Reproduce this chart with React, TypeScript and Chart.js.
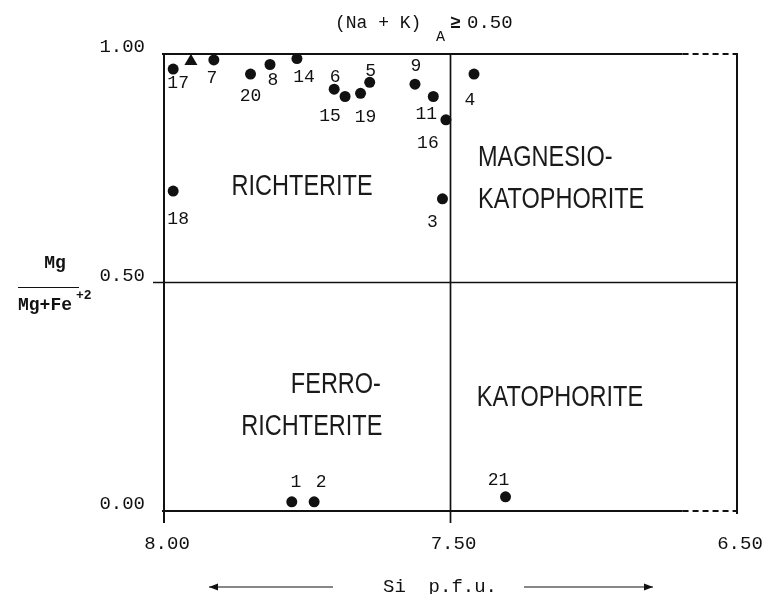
import React, { useEffect, useRef } from 'react';
import { Chart, registerables } from 'chart.js';

Chart.register(...registerables);

// ---- data ----
const circleSamples = ['17', '7', '20', '8', '14', '6', '15', '19', '5', '9', '11', '16', '3', '4', '18', '1', '2', '21'];
const circleSi = [7.984, 7.913, 7.849, 7.815, 7.768, 7.703, 7.684, 7.657, 7.641, 7.562, 7.530, 7.508, 7.514, 7.459, 7.984, 7.777, 7.738, 7.404];
const circleMg = [0.967, 0.987, 0.956, 0.977, 0.990, 0.923, 0.907, 0.914, 0.938, 0.934, 0.907, 0.856, 0.683, 0.956, 0.700, 0.020, 0.020, 0.031];
const triangleSi = [7.953];
const triangleMg = [0.984];

const xTickValues = [8.0, 7.5, 7.0];
const xTickLabels = ['8.00', '7.50', '6.50'];
const yTickValues = [0, 0.5, 1.0];
const yTickLabels = ['0.00', '0.50', '1.00'];

const siDivider = 7.5;
const mgDivider = 0.5;
const axisBreakStart = 7.095;

// ---- layout (annotation placement, px offsets from each point) ----
const labelOffsets: [number, number][] = [
  [5, 14], [-2, 18], [0, 22], [3, 16], [7, 19], [1, -12], [-15, 20], [5, 24], [1, -11],
  [1, -18], [-7, 18], [-18, 23], [-10, 23], [-4, 26], [5, 28], [4, -20], [7, -20], [-7, -17],
];

type Field = { text: string; si: number; mg: number; align: CanvasTextAlign };
const fieldLabels: Field[] = [
  { text: 'RICHTERITE', si: 7.759, mg: 0.708, align: 'center' },
  { text: 'MAGNESIO-', si: 7.452, mg: 0.772, align: 'left' },
  { text: 'KATOPHORITE', si: 7.452, mg: 0.681, align: 'left' },
  { text: 'FERRO-', si: 7.700, mg: 0.276, align: 'center' },
  { text: 'RICHTERITE', si: 7.742, mg: 0.184, align: 'center' },
  { text: 'KATOPHORITE', si: 7.454, mg: 0.247, align: 'left' },
];

const INK = '#111111';
const MONO = '"Liberation Mono", "DejaVu Sans Mono", monospace';
const SANS = '"Liberation Sans", "DejaVu Sans", sans-serif';

const decorPlugin = {
  id: 'decor',
  beforeDatasetsDraw(chart: any) {
    const { ctx } = chart;
    const xs = chart.scales.x;
    const ys = chart.scales.y;
    const xL = xs.getPixelForValue(8.0);
    const xR = xs.getPixelForValue(7.0);
    const xB = xs.getPixelForValue(axisBreakStart);
    const xD = xs.getPixelForValue(siDivider);
    const yT = ys.getPixelForValue(1.0);
    const yB = ys.getPixelForValue(0.0);
    const yD = ys.getPixelForValue(mgDivider);
    ctx.save();
    ctx.strokeStyle = INK;
    ctx.lineCap = 'butt';
    ctx.lineWidth = 2;
    const seg = (x1: number, y1: number, x2: number, y2: number, dash: number[] = []) => {
      ctx.setLineDash(dash);
      ctx.beginPath();
      ctx.moveTo(x1, y1);
      ctx.lineTo(x2, y2);
      ctx.stroke();
    };
    // borders
    seg(xL, yT - 1, xL, yB + 12);
    seg(xL - 2, yT, xB, yT);
    seg(xB, yT, xR, yT, [6, 4]);
    seg(xL - 2, yB, xB, yB);
    seg(xB, yB, xR, yB, [6, 4]);
    seg(xR, yT - 1, xR, yB + 3);
    // dividers
    ctx.lineWidth = 1.7;
    seg(xD, yT, xD, yB + 12);
    seg(xL - 11, yD, xR, yD);
    ctx.setLineDash([]);

    // field names
    ctx.fillStyle = '#1a1a1a';
    ctx.font = `29px ${SANS}`;
    ctx.textBaseline = 'middle';
    const sx = 141 / ctx.measureText('RICHTERITE').width;
    fieldLabels.forEach((f) => {
      const x = xs.getPixelForValue(f.si);
      const y = ys.getPixelForValue(f.mg);
      ctx.save();
      ctx.translate(x, y);
      ctx.scale(sx, 1);
      ctx.textAlign = f.align;
      ctx.fillText(f.text, 0, 0);
      ctx.restore();
    });
    ctx.restore();
  },
  afterDatasetsDraw(chart: any) {
    const { ctx } = chart;
    ctx.save();
    ctx.fillStyle = INK;
    ctx.textBaseline = 'middle';
    ctx.textAlign = 'center';
    ctx.font = `18px ${MONO}`;
    const meta = chart.getDatasetMeta(0);
    meta.data.forEach((pt: any, i: number) => {
      const [dx, dy] = labelOffsets[i];
      ctx.fillText(circleSamples[i], pt.x + dx, pt.y + dy);
    });

    // title (Na + K)_A >= 0.50
    ctx.textAlign = 'left';
    ctx.font = `18px ${MONO}`;
    ctx.fillText('(Na + K)', 335, 23);
    ctx.font = `15px ${MONO}`;
    ctx.fillText('A', 436, 37);
    ctx.font = `bold 18px ${MONO}`;
    ctx.fillText('\u2265', 450, 23);
    ctx.font = `19px ${MONO}`;
    ctx.fillText('0.50', 467, 23);

    // y axis title
    ctx.font = `bold 18px ${MONO}`;
    ctx.textAlign = 'center';
    ctx.fillText('Mg', 55, 263);
    ctx.strokeStyle = INK;
    ctx.lineWidth = 1;
    ctx.beginPath();
    ctx.moveTo(18, 287.5);
    ctx.lineTo(79, 287.5);
    ctx.stroke();
    ctx.textAlign = 'left';
    ctx.fillText('Mg+Fe', 18, 305);
    ctx.font = `bold 13px ${MONO}`;
    ctx.fillText('+2', 76, 296);

    // x axis title with arrows
    ctx.font = `19px ${MONO}`;
    ctx.textAlign = 'center';
    ctx.fillText('Si  p.f.u.', 440, 587);
    const arrow = (x1: number, x2: number, y: number) => {
      ctx.lineWidth = 1.2;
      ctx.beginPath();
      ctx.moveTo(x1, y);
      ctx.lineTo(x2, y);
      ctx.stroke();
      const dir = x2 > x1 ? 1 : -1;
      ctx.beginPath();
      ctx.moveTo(x2, y);
      ctx.lineTo(x2 - dir * 9, y - 3.5);
      ctx.lineTo(x2 - dir * 9, y + 3.5);
      ctx.closePath();
      ctx.fill();
    };
    arrow(333, 209, 587);
    arrow(524, 653, 587);
    ctx.restore();
  },
};

export default function App() {
  const ref = useRef<HTMLCanvasElement | null>(null);

  useEffect(() => {
    if (!ref.current) return;
    const chart = new Chart(ref.current, {
      type: 'scatter',
      data: {
        datasets: [
          {
            label: 'circles',
            data: circleSi.map((x, i) => ({ x, y: circleMg[i] })),
            pointStyle: 'circle',
            pointRadius: 5.5,
            pointBackgroundColor: INK,
            pointBorderWidth: 0,
            pointBorderColor: INK,
          },
          {
            label: 'triangle',
            data: triangleSi.map((x, i) => ({ x, y: triangleMg[i] })),
            pointStyle: 'triangle',
            pointRadius: 7.5,
            pointBackgroundColor: INK,
            pointBorderWidth: 0,
            pointBorderColor: INK,
          },
        ],
      },
      options: {
        animation: false,
        responsive: false,
        events: [],
        layout: { autoPadding: false, padding: { left: 0, right: 26, top: 54, bottom: 0 } },
        plugins: { legend: { display: false }, tooltip: { enabled: false }, title: { display: false } },
        scales: {
          x: {
            type: 'linear',
            reverse: true,
            min: 7.0,
            max: 8.0,
            afterBuildTicks: (s: any) => {
              s.ticks = xTickValues.map((v) => ({ value: v }));
            },
            afterFit: (s: any) => {
              s.height = 83;
              s.paddingLeft = 0;
              s.paddingRight = 0;
            },
            grid: { display: false, drawTicks: false },
            border: { display: false },
            ticks: {
              callback: (v: any) => xTickLabels[xTickValues.indexOf(Number(v))] ?? '',
              font: { family: MONO, size: 19 },
              color: INK,
              padding: 22,
              labelOffset: 3,
              maxRotation: 0,
              autoSkip: false,
            },
          },
          y: {
            type: 'linear',
            min: 0,
            max: 1,
            afterBuildTicks: (s: any) => {
              s.ticks = yTickValues.map((v) => ({ value: v }));
            },
            afterFit: (s: any) => {
              s.width = 164;
              s.paddingTop = 0;
              s.paddingBottom = 0;
            },
            grid: { display: false, drawTicks: false },
            border: { display: false },
            ticks: {
              callback: (v: any) => yTickLabels[yTickValues.indexOf(Number(v))] ?? '',
              font: { family: MONO, size: 19 },
              color: INK,
              padding: 19,
              labelOffset: -7,
              autoSkip: false,
            },
          },
        },
      },
      plugins: [decorPlugin],
    });
    return () => chart.destroy();
  }, []);

  return (
    <div style={{ position: 'fixed', left: 0, top: 0, width: 763, height: 594, background: '#fff' }}>
      <canvas ref={ref} width={763} height={594} style={{ display: 'block' }} />
    </div>
  );
}
